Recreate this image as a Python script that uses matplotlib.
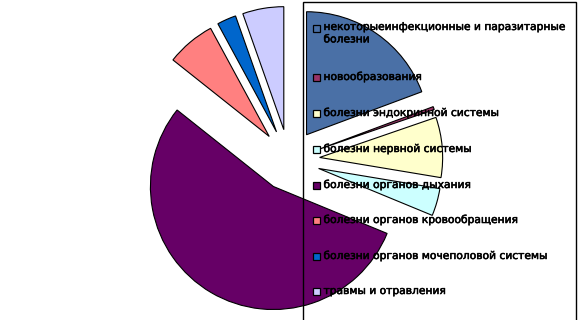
import matplotlib
matplotlib.use("Agg")
import matplotlib.pyplot as plt
from matplotlib.patches import Rectangle
import matplotlib.patheffects as pe

categories = [
    "некоторыеинфекционные и паразитарные\nболезни",
    "новообразования",
    "болезни эндокринной системы",
    "болезни нервной системы",
    "болезни органов дыхания",
    "болезни органов кровообращения",
    "болезни органов мочеполовой системы",
    "травмы и отравления",
]
values = [19.3, 0.4, 7.9, 3.6, 54.4, 6.4, 2.5, 5.4]
colors = ["#4A70A6", "#993366", "#FFFFCC", "#CCFFFF", "#660066", "#FF8080", "#0066CC", "#CCCCFF"]

W, H = 578, 320
fig = plt.figure(figsize=(W / 100, H / 100), dpi=100)
ax = fig.add_axes([0, 0, 1, 1])

R = 123.0
cx, cy = 289.0, 160.0
ax.pie(values, colors=colors, startangle=90, counterclock=False,
       explode=[0.25] * len(values), radius=1.0,
       wedgeprops=dict(edgecolor="black", linewidth=0.8))
ax.set_aspect("auto")
ax.set_xlim(-cx / R, (W - cx) / R)
ax.set_ylim(-(H - cy) / R, cy / R)
ax.axis("off")

# legend frame (transparent)
fig.patches.append(Rectangle((303 / W, -0.05), (576 - 303) / W, 1.05 - 1.5 / H,
                             transform=fig.transFigure, fill=False,
                             edgecolor="black", linewidth=1.0, zorder=5))

stroke = [pe.withStroke(linewidth=0.4, foreground="black")]
marker_y = [28, 77, 113, 149, 185, 220, 256, 291]
for lab, col, my in zip(categories, colors, marker_y):
    fig.patches.append(Rectangle((313 / W, 1 - (my + 3.5) / H), 7 / W, 7 / H,
                                 transform=fig.transFigure, facecolor=col,
                                 edgecolor="black", linewidth=0.9, zorder=6))
    if "\n" in lab:
        fig.text(323.5 / W, 1 - (my - 6) / H, lab, fontsize=7.7, va="top", ha="left",
                 linespacing=1.3, zorder=7, family="DejaVu Sans", path_effects=stroke)
    else:
        fig.text(323.5 / W, 1 - my / H, lab, fontsize=7.7, va="center", ha="left",
                 zorder=7, family="DejaVu Sans", path_effects=stroke)

fig.savefig("out.png", dpi=100, facecolor="white")
